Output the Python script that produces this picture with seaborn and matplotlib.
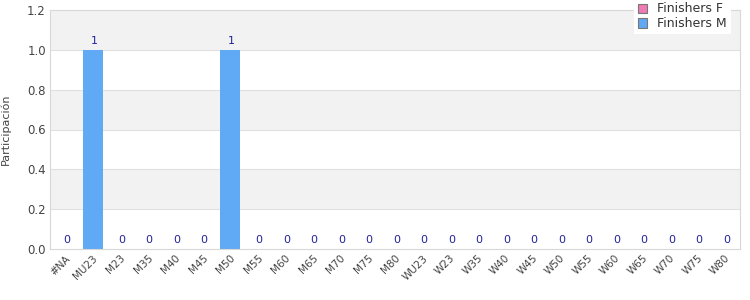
import matplotlib
matplotlib.use("Agg")
import matplotlib.pyplot as plt
import seaborn as sns
import pandas as pd

categories = ["#NA", "MU23", "M23", "M35", "M40", "M45", "M50", "M55", "M60", "M65",
              "M70", "M75", "M80", "WU23", "W23", "W35", "W40", "W45", "W50", "W55",
              "W60", "W65", "W70", "W75", "W80"]
finishers_f = [0] * 25
finishers_m = [0, 1, 0, 0, 0, 0, 1, 0, 0, 0, 0, 0, 0, 0, 0, 0, 0, 0, 0, 0, 0, 0, 0, 0, 0]
yticks = [0.0, 0.2, 0.4, 0.6, 0.8, 1.0, 1.2]

sns.set_theme(style="white")
plt.rcParams['font.family'] = ['DejaVu Sans']

df = pd.DataFrame({
    "cat": categories * 2,
    "val": finishers_f + finishers_m,
    "serie": ["Finishers F"] * len(categories) + ["Finishers M"] * len(categories),
})

fig = plt.figure(figsize=(7.5, 3), dpi=100)
ax = fig.add_axes([50/750, 1-249/300, 690/750, 239/300])

# alternating bands
for i in range(len(yticks) - 1):
    if (len(yticks) - 2 - i) % 2 == 0:
        ax.axhspan(yticks[i], yticks[i+1], color="#f2f2f2", zorder=0, lw=0)
for t in yticks[1:-1]:
    ax.axhline(t, color="#e0e0e0", lw=0.8, zorder=0.5)

palette = {"Finishers F": "#f07ab4", "Finishers M": "#60a9f4"}
sns.barplot(data=df, x="cat", y="val", hue="serie", dodge=False, width=0.72,
            palette=palette, ax=ax, zorder=2, legend=False, saturation=1,
            linewidth=0, edgecolor="none")

for i, (f, m) in enumerate(zip(finishers_f, finishers_m)):
    v = f + m
    ax.text(i + 0.05, v + 0.02, f"{v:g}", ha="center", va="bottom", fontsize=8,
            color="#22229a", zorder=3)

ax.set_ylim(0, 1.2)
ax.set_xlim(-0.55, len(categories) - 0.45)
ax.set_yticks(yticks)
ax.set_yticklabels([f"{t:.1f}" for t in yticks], fontsize=8.5, color="#444444")
ax.set_xticks(range(len(categories)))
ax.set_xticklabels(categories, rotation=45, ha="right", rotation_mode="anchor",
                   fontsize=7.5, color="#444444")
ax.tick_params(axis="both", length=0, pad=3)
ax.set_xlabel("")
ax.set_ylabel("Participación", fontsize=8, color="#444444", labelpad=12)
for s in ax.spines.values():
    s.set_color("#d8d8d8")
    s.set_linewidth(0.8)

from matplotlib.patches import Patch
handles = [Patch(facecolor=palette[k], edgecolor="#777777", lw=0.8) for k in palette]
leg = fig.legend(handles, list(palette.keys()), loc="upper right",
                 bbox_to_anchor=(737/750, 1.025), fontsize=9, frameon=True,
                 fancybox=False, framealpha=1, edgecolor="white",
                 handlelength=0.75, handleheight=0.75, borderpad=0.3,
                 labelspacing=0.15, handletextpad=0.8, labelcolor="#333333")
leg.get_frame().set_linewidth(0)

fig.savefig("out.png", dpi=100)
